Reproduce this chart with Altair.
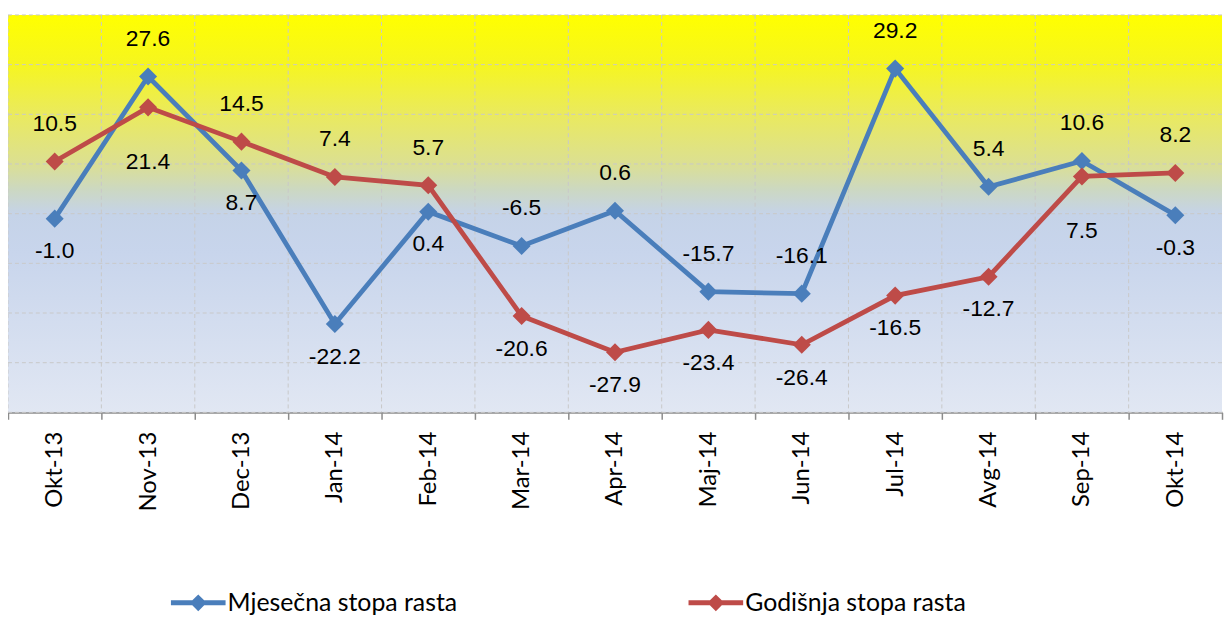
import altair as alt
import pandas as pd

months = ["Okt-13", "Nov-13", "Dec-13", "Jan-14", "Feb-14", "Mar-14", "Apr-14",
          "Maj-14", "Jun-14", "Jul-14", "Avg-14", "Sep-14", "Okt-14"]
series_names = ["Mjesečna stopa rasta", "Godišnja stopa rasta"]
monthly = [-1.0, 27.6, 8.7, -22.2, 0.4, -6.5, 0.6, -15.7, -16.1, 29.2, 5.4, 10.6, -0.3]
annual = [10.5, 21.4, 14.5, 7.4, 5.7, -20.6, -27.9, -23.4, -26.4, -16.5, -12.7, 7.5, 8.2]
monthly_place = ["below", "above", "below", "below", "below", "above", "above",
                 "above", "above", "above", "above", "above", "below"]
annual_place = ["above", "far", "above", "above", "above", "below", "below",
                "below", "below", "below", "below", "far", "above"]
y_ticks = [-40, -30, -20, -10, 0, 10, 20, 30, 40]
colors = ["#4A7EBB", "#BE4B48"]

rows = []
for m, v, p in zip(months, monthly, monthly_place):
    rows.append({"month": m, "series": series_names[0], "value": v, "place": p,
                 "label": f"{v:.1f}"})
for m, v, p in zip(months, annual, annual_place):
    rows.append({"month": m, "series": series_names[1], "value": v, "place": p,
                 "label": f"{v:.1f}"})
df = pd.DataFrame(rows)

grid_color = "#C9C9C9"
xscale = alt.Scale(type="band", domain=months, paddingInner=0, paddingOuter=0)
yscale = alt.Scale(domain=[y_ticks[0], y_ticks[-1]], nice=False, zero=False)
cscale = alt.Scale(domain=series_names, range=colors)

x_axis = alt.Axis(title=None, labelAngle=270, tickBand="extent", grid=False,
                  tickColor="#8C8C8C", tickSize=7, tickWidth=1.5,
                  domainColor="#8C8C8C", domainWidth=2,
                  labelPadding=12, labelFont="Lato", labelFontSize=24,
                  labelFontWeight="normal", labelColor="black")
y_axis = alt.Axis(title=None, labels=False, ticks=False, domain=False, grid=False)

Xn = alt.X("month:N", sort=months, scale=xscale, bandPosition=0.5)

gradient = alt.LinearGradient(
    gradient="linear", x1=0, x2=0, y1=0, y2=1,
    stops=[
        alt.GradientStop(color="#FFFF00", offset=0),
        alt.GradientStop(color="#F6F61E", offset=0.12),
        alt.GradientStop(color="#EAEA5E", offset=0.25),
        alt.GradientStop(color="#DCE090", offset=0.37),
        alt.GradientStop(color="#CCD8C2", offset=0.44),
        alt.GradientStop(color="#C5D3E8", offset=0.5),
        alt.GradientStop(color="#C8D5EC", offset=0.6),
        alt.GradientStop(color="#E1E7F3", offset=1),
    ],
)

bg = alt.Chart(pd.DataFrame({"top": [y_ticks[-1]], "bottom": [y_ticks[0]]})).mark_rect(
    color=gradient
).encode(
    y=alt.Y("top:Q", scale=yscale, axis=y_axis),
    y2="bottom:Q",
)

hgrid = alt.Chart(pd.DataFrame({"v": y_ticks})).mark_rule(
    color=grid_color, strokeDash=[4, 3], strokeWidth=1
).encode(y=alt.Y("v:Q", scale=yscale))

vgrid = alt.Chart(pd.DataFrame({"month": months})).mark_rule(
    color=grid_color, strokeDash=[4, 3], strokeWidth=1
).encode(
    x=alt.X("month:N", sort=months, scale=xscale, axis=x_axis, bandPosition=0),
    y=alt.value(0), y2=alt.value(400),
)

legend_path = ("M-2.75,-0.25L2.75,-0.25L2.75,0.25L-2.75,0.25Z"
               "M0,-0.85L0.85,0L0,0.85L-0.85,0Z")
legend = alt.Legend(title=None, orient="none", legendX=179, legendY=579,
                    direction="horizontal", columns=2, columnPadding=232,
                    symbolType=legend_path, symbolSize=400, symbolStrokeWidth=0,
                    labelOffset=17, labelFont="Lato", labelFontSize=25,
                    labelColor="black", labelLimit=400, padding=0)

base = alt.Chart(df)
layers = [bg, hgrid, vgrid]
for i, name in enumerate(series_names):
    sub = base.transform_filter(alt.datum.series == name)
    line = sub.mark_line(strokeWidth=4.8).encode(
        x=Xn,
        y=alt.Y("value:Q", scale=yscale),
        stroke=alt.Stroke("series:N", scale=cscale, legend=legend),
    )
    pts = sub.mark_point(shape="diamond", filled=True, size=330, opacity=1).encode(
        x=Xn,
        y=alt.Y("value:Q", scale=yscale),
        fill=alt.Fill("series:N", scale=cscale, legend=legend),
    )
    layers += [line, pts]

offsets = {"above": -38, "below": 33, "far": 55}
for place, dy in offsets.items():
    txt = base.transform_filter(alt.datum.place == place).mark_text(
        font="Liberation Sans", fontSize=23, color="black", dy=dy
    ).encode(
        x=Xn,
        y=alt.Y("value:Q", scale=yscale),
        text="label:N",
    )
    layers.append(txt)

chart = alt.layer(*layers).properties(
    width=1222, height=400,
    padding={"top": 5, "left": 0, "right": 2, "bottom": 207},
    autosize=alt.AutoSizeParams(type="none"),
).configure_view(strokeWidth=0)

chart.save("out.html", embed_options={"renderer": "svg", "actions": False})
